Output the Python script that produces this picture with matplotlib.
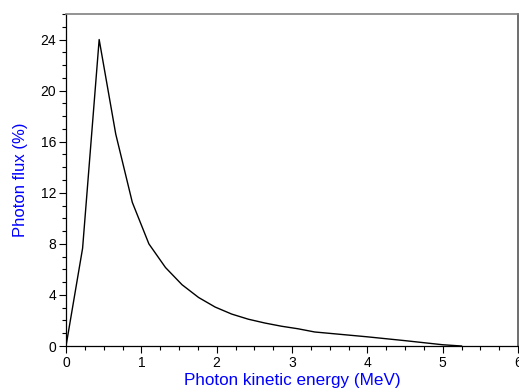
import matplotlib
matplotlib.use("Agg")
import matplotlib.pyplot as plt
from matplotlib.ticker import MultipleLocator

energy = [0.0, 0.22, 0.44, 0.66, 0.88, 1.10, 1.32, 1.54, 1.76, 1.98, 2.20, 2.42,
          2.64, 2.86, 3.08, 3.30, 4.00, 4.50, 5.00, 5.25]
flux = [0.0, 7.65, 24.0, 16.6, 11.25, 8.0, 6.15, 4.8, 3.8, 3.05, 2.5, 2.1,
        1.8, 1.55, 1.35, 1.1, 0.72, 0.42, 0.1, 0.0]

xticks = [0, 1, 2, 3, 4, 5, 6]
yticks = [0, 4, 8, 12, 16, 20, 24]

plt.rcParams['font.family'] = ['Liberation Sans', 'DejaVu Sans']

fig = plt.figure(figsize=(5.19, 3.92), dpi=100)
ax = fig.add_axes([0.1272, 0.1173, 0.8709, 0.847])
ax.plot(energy, flux, color='black', lw=1.0)
ax.set_xlim(0, 6)
ax.set_ylim(0, 26)
ax.set_xticks(xticks)
ax.set_yticks(yticks)
ax.xaxis.set_minor_locator(MultipleLocator(0.25))
ax.yaxis.set_minor_locator(MultipleLocator(1))
ax.tick_params(which='major', direction='out', length=5, width=0.8, labelsize=10, pad=2)
ax.tick_params(which='minor', direction='out', length=3, width=0.8)
ax.tick_params(top=False, right=False)
for s in ['left', 'bottom']:
    ax.spines[s].set_color('black')
    ax.spines[s].set_linewidth(0.9)
ax.spines['top'].set_color('#808080')
ax.spines['top'].set_linewidth(1.2)
ax.spines['right'].set_color('#555555')
ax.spines['right'].set_linewidth(1.2)
ax.set_xlabel('Photon kinetic energy (MeV)', color='blue', fontsize=12.3, labelpad=2)
ax.set_ylabel('Photon flux (%)', color='blue', fontsize=12, labelpad=9)
fig.savefig('out.png', dpi=100)
